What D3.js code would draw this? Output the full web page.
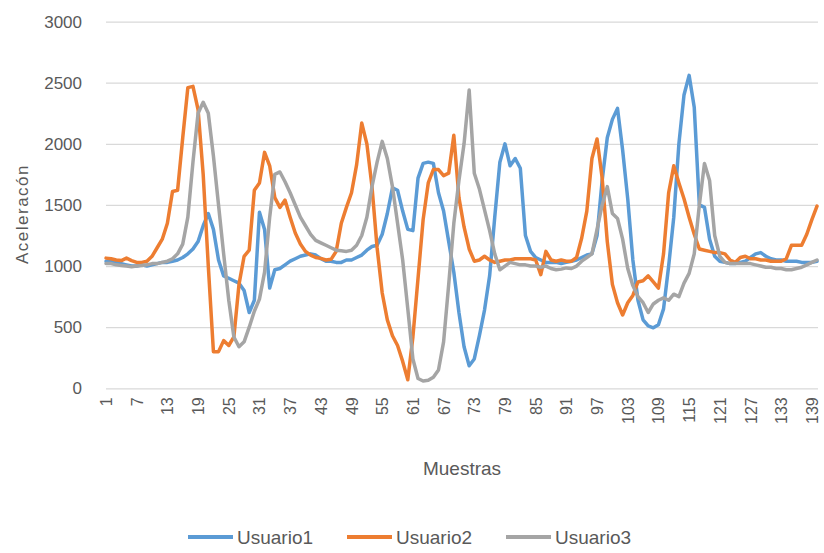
<!DOCTYPE html>
<html>
<head>
<meta charset="utf-8">
<script src="https://cdn.jsdelivr.net/npm/d3@7"></script>
<style>
  body { margin: 0; background: #fff; }
  text { font-family: "Liberation Sans", Arial, sans-serif; fill: #595959; }
</style>
</head>
<body>
<svg id="chart" width="824" height="553"></svg>
<script>
// Sample numbers on the horizontal axis
const samples = d3.range(1, 141);

// Acceleration readings per user, one value per sample
const usuario1 = [
  1040,1040,1030,1020,1010,1000,1000,1010,1000,1010,
  1020,1030,1030,1040,1050,1070,1100,1140,1200,1330,
  1430,1300,1050,920,900,880,860,800,620,720,
  1440,1300,820,970,980,1010,1040,1060,1080,1090,
  1100,1090,1060,1040,1040,1030,1030,1050,1050,1070,
  1090,1130,1160,1170,1260,1430,1640,1620,1450,1300,
  1290,1720,1840,1850,1840,1600,1450,1200,950,620,
  340,185,240,430,640,920,1400,1850,2000,1820,
  1880,1800,1250,1120,1070,1050,1030,1030,1030,1020,
  1030,1040,1050,1070,1090,1100,1250,1700,2050,2200,
  2290,1950,1550,1050,720,560,510,495,520,650,
  1000,1400,2000,2400,2560,2300,1500,1480,1220,1080,
  1040,1030,1020,1020,1030,1040,1070,1100,1110,1080,
  1060,1050,1050,1040,1040,1040,1030,1030,1030,1040
];
const usuario2 = [
  1065,1060,1050,1045,1065,1045,1030,1030,1040,1080,
  1150,1220,1350,1610,1620,2050,2460,2470,2280,1750,
  1000,300,300,390,350,420,850,1080,1130,1620,
  1680,1930,1820,1560,1480,1540,1400,1270,1180,1120,
  1090,1070,1063,1050,1055,1120,1350,1480,1600,1830,
  2170,2000,1650,1150,780,560,430,350,220,70,
  420,900,1380,1680,1790,1790,1740,1760,2070,1560,
  1320,1140,1040,1050,1080,1050,1030,1040,1050,1050,
  1060,1060,1060,1060,1050,930,1120,1050,1040,1050,
  1040,1040,1070,1230,1450,1880,2040,1720,1200,850,
  700,600,700,760,870,880,920,870,820,1100,
  1600,1820,1680,1550,1400,1260,1140,1130,1120,1110,
  1110,1100,1050,1030,1070,1080,1060,1060,1050,1050,
  1040,1040,1040,1060,1170,1170,1170,1260,1380,1490
];
const usuario3 = [
  1020,1020,1010,1005,1000,995,1000,1005,1010,1020,
  1020,1030,1040,1060,1100,1180,1400,1850,2250,2340,
  2250,1900,1500,1100,720,420,340,380,500,630,
  730,950,1400,1750,1770,1690,1600,1500,1400,1330,
  1260,1210,1190,1170,1150,1130,1125,1120,1130,1170,
  1250,1400,1650,1850,2020,1880,1650,1350,1050,650,
  240,80,60,65,90,150,380,850,1350,1700,
  2000,2440,1760,1630,1460,1290,1100,970,1000,1030,
  1020,1010,1010,1000,1000,990,1000,980,970,975,
  985,980,1000,1040,1070,1100,1300,1500,1650,1430,
  1390,1220,980,840,750,700,620,690,720,740,
  720,770,750,860,940,1100,1500,1840,1700,1250,
  1080,1030,1020,1020,1020,1020,1020,1010,1000,990,
  990,980,980,970,970,980,990,1010,1030,1050
];

const seriesNames = ["Usuario1", "Usuario2", "Usuario3"];
const seriesColors = ["#5B9BD5", "#ED7D31", "#A5A5A5"];
const yTicks = [0, 500, 1000, 1500, 2000, 2500, 3000];
const xTickLabels = samples.filter(d => (d - 1) % 6 === 0);

const series = [usuario1, usuario2, usuario3];

const svg = d3.select("#chart");

const x = d3.scalePoint().domain(samples).range([106, 817]);
const y = d3.scaleLinear().domain([0, 3000]).range([388.3, 21.6]);

// Horizontal gridlines with value labels
const yAxis = svg.append("g")
  .attr("transform", "translate(106,0)")
  .call(d3.axisLeft(y).tickValues(yTicks).tickSize(-712).tickPadding(24).tickFormat(d3.format("d")));
yAxis.select(".domain").remove();
yAxis.selectAll(".tick line").attr("stroke", "#D9D9D9").attr("stroke-width", 1.2);
yAxis.selectAll(".tick text")
  .attr("font-size", 17)
  .style("font-family", "'Liberation Sans', Arial, sans-serif")
  .attr("fill", "#595959");

// Sample labels, rotated
const xAxis = svg.append("g")
  .attr("transform", "translate(0,388.3)")
  .call(d3.axisBottom(x).tickValues(xTickLabels).tickSize(0).tickPadding(0));
xAxis.select(".domain").remove();
xAxis.selectAll(".tick text")
  .attr("font-size", 16)
  .style("font-family", "'Liberation Sans', Arial, sans-serif")
  .attr("fill", "#595959")
  .attr("text-anchor", "end")
  .attr("dy", null)
  .attr("dominant-baseline", "central")
  .attr("transform", "translate(0,9) rotate(-90)")
  .attr("y", 0)
  .attr("x", 0);

// Series lines
const line = d3.line()
  .x((d, i) => x(samples[i]))
  .y(d => y(d));

svg.append("g").selectAll("path")
  .data(series)
  .join("path")
  .attr("d", line)
  .attr("fill", "none")
  .attr("stroke", (d, i) => seriesColors[i])
  .attr("stroke-width", 3.5)
  .attr("stroke-linejoin", "round")
  .attr("stroke-linecap", "round");

// Axis titles
svg.append("text")
  .attr("x", 462).attr("y", 468)
  .attr("text-anchor", "middle")
  .attr("dominant-baseline", "central")
  .attr("font-size", 19)
  .text("Muestras");

svg.append("text")
  .attr("transform", "translate(22,214) rotate(-90)")
  .attr("text-anchor", "middle")
  .attr("dominant-baseline", "central")
  .attr("font-size", 17)
  .attr("letter-spacing", 1.5)
  .text("Aceleracón");

// Legend
const legendX = [188, 347, 506];
const legend = svg.append("g").selectAll("g")
  .data(seriesNames)
  .join("g")
  .attr("transform", (d, i) => `translate(${legendX[i]},537)`);
legend.append("line")
  .attr("x1", 0).attr("x2", 45).attr("y1", 0).attr("y2", 0)
  .attr("stroke", (d, i) => seriesColors[i])
  .attr("stroke-width", 4);
legend.append("text")
  .attr("x", 49).attr("y", 0)
  .attr("dominant-baseline", "central")
  .attr("font-size", 19)
  .text(d => d);
</script>
</body>
</html>
